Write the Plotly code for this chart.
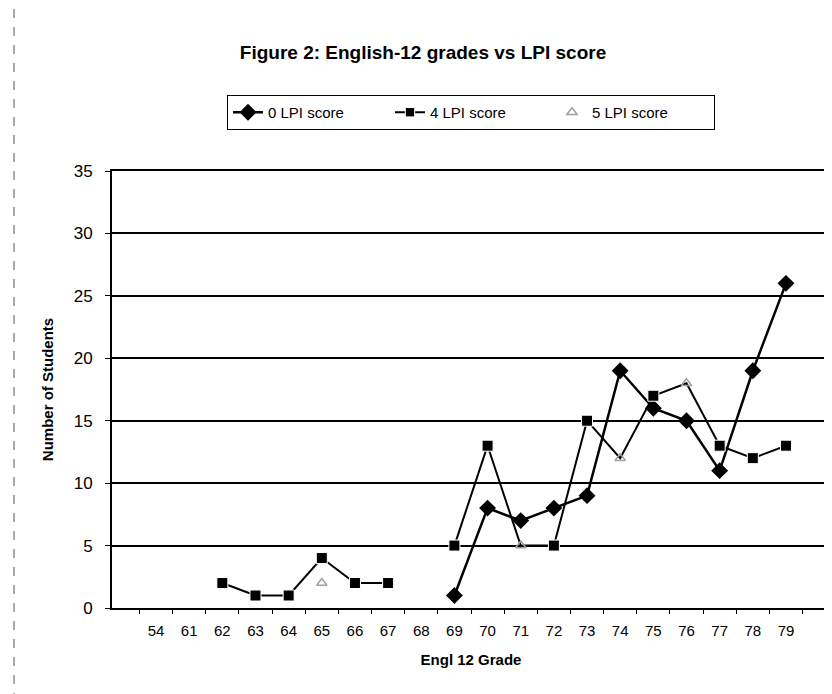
import plotly.graph_objects as go

grades = ["54", "61", "62", "63", "64", "65", "66", "67", "68", "69",
          "70", "71", "72", "73", "74", "75", "76", "77", "78", "79"]
lpi0 = [None, None, None, None, None, None, None, None, None, 1,
        8, 7, 8, 9, 19, 16, 15, 11, 19, 26]
lpi4 = [None, None, 2, 1, 1, 4, 2, 2, None, 5,
        13, 5, 5, 15, 12, 17, 18, 13, 12, 13]
lpi5 = [None, None, None, None, None, 2, None, None, None, None,
        None, 5, None, None, 12, None, 18, None, None, None]

FONT = "Liberation Sans, Arial, sans-serif"

# plot area in pixels (for placing the legend / border)
L, R, T, B = 104, 10, 163, 94
W, H = 832, 694
pw, ph = W - L - R, H - T - B

# square markers not visible in the scan at grades 71, 74, 76
sq_sizes = [0 if g in ("71", "74", "76") else 11 for g in grades]

fig = go.Figure()
fig.add_trace(go.Scatter(
    x=grades, y=lpi0, name="0 LPI score", mode="lines+markers",
    line=dict(color="black", width=2.5),
    marker=dict(symbol="diamond", size=13, color="black", opacity=1),
))
fig.add_trace(go.Scatter(
    x=grades, y=lpi4, name="4 LPI score", mode="lines+markers",
    line=dict(color="black", width=2),
    marker=dict(symbol="square", size=sq_sizes, color="black", opacity=1,
                sizemode="diameter"),
))
fig.add_trace(go.Scatter(
    x=grades, y=lpi5, name="5 LPI score", mode="lines+markers",
    line=dict(color="rgba(0,0,0,0)", width=1),
    marker=dict(symbol="triangle-up-open", size=9, color="#a0a0a0",
                line=dict(color="#a0a0a0", width=1.5)),
))

fig.update_layout(
    width=W, height=H,
    paper_bgcolor="white", plot_bgcolor="white",
    margin=dict(l=L, r=R, t=T, b=B, autoexpand=False),
    font=dict(family=FONT, size=15, color="black"),
    title=dict(text="<b>Figure 2: English-12 grades vs LPI score</b>",
               x=415 / W, xanchor="center", y=1 - 44 / H, yanchor="middle",
               xref="container", yref="container",
               font=dict(size=19, family=FONT)),
    legend=dict(orientation="h", x=(219 - L) / pw, y=1 + (T - 87) / ph,
                xanchor="left", yanchor="top",
                bordercolor="black", borderwidth=1, bgcolor="white",
                font=dict(size=15, family=FONT), itemwidth=30,
                entrywidth=117, entrywidthmode="pixels"),
    showlegend=True,
    shapes=[dict(type="line", xref="paper", yref="paper",
                 x0=(6 - L) / pw, x1=(6 - L) / pw,
                 y0=-B / ph, y1=1 + T / ph,
                 line=dict(color="#555555", width=1, dash="dash"))],
)
fig.update_xaxes(
    type="category", categoryorder="array", categoryarray=grades,
    title=dict(text="<b>Engl 12 Grade</b>", font=dict(size=15), standoff=16),
    showline=True, linecolor="black", linewidth=2, mirror=True,
    ticks="outside", ticklen=4, tickcolor="black", tickson="boundaries",
    ticklabelstandoff=8,
    showgrid=False, tickfont=dict(size=15),
)
fig.update_yaxes(
    range=[0, 35], dtick=5,
    title=dict(text="<b>Number of Students</b>", font=dict(size=15), standoff=16),
    showline=True, linecolor="black", linewidth=2, mirror=True,
    ticks="outside", ticklen=5, tickcolor="black", ticklabelstandoff=9,
    showgrid=True, gridcolor="black", gridwidth=2,
    zeroline=False, tickfont=dict(size=17),
)

fig.write_html("out.html")
